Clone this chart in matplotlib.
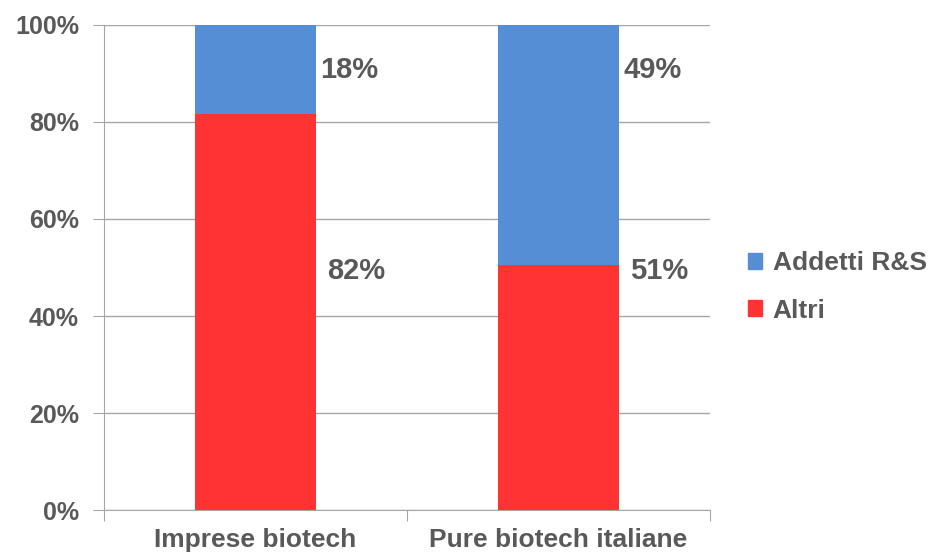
import matplotlib.pyplot as plt
from matplotlib.patches import Patch

categories = ["Imprese biotech", "Pure biotech italiane"]
altri = [81.6, 50.6]
addetti_rs = [18.4, 49.4]
altri_labels = ["82%", "51%"]
rs_labels = ["18%", "49%"]
yticks = [0, 20, 40, 60, 80, 100]

BLUE = "#558ED5"
RED = "#FF3333"
GRAY = "#595959"
GRID = "#A6A6A6"

plt.rcParams['font.family'] = ['Liberation Sans', 'DejaVu Sans']
plt.rcParams['font.weight'] = 'bold'

fig = plt.figure(figsize=(9.3, 5.54), dpi=100)
ax = fig.add_axes([0.1118, 0.0794, 0.6516, 0.8755])

x = list(range(len(categories)))
ax.bar(x, altri, width=0.4, color=RED, zorder=3)
ax.bar(x, addetti_rs, width=0.4, bottom=altri, color=BLUE, zorder=3)

# labels sit at fixed heights beside the bars, as in the original slide
for i in x:
    ax.text(i + 0.215, 90.7, rs_labels[i], color=GRAY,
            fontsize=21, fontweight='bold', va='center', ha='left')
    ax.text(i + 0.235, 49.2, altri_labels[i], color=GRAY,
            fontsize=21, fontweight='bold', va='center', ha='left')

ax.set_xlim(-0.5, 1.5)
ax.set_ylim(0, 100)
ax.set_yticks(yticks)
ax.set_yticklabels([f"{v}%" for v in yticks], color=GRAY, fontsize=18, fontweight='bold')
ax.yaxis.grid(True, color=GRID, linewidth=1, zorder=0)

ax.set_xticks([-0.5, 0.5, 1.5], minor=False)
ax.set_xticklabels([])
ax.set_xticks(x, minor=True)
ax.set_xticklabels(categories, minor=True, color=GRAY, fontsize=19, fontweight='bold')
ax.tick_params(axis='x', which='minor', length=0, pad=13)
ax.tick_params(axis='x', which='major', length=8, color=GRID, direction='out')
ax.tick_params(axis='y', length=8, color=GRID, pad=10)

for side in ['top', 'right']:
    ax.spines[side].set_visible(False)
for side in ['left', 'bottom']:
    ax.spines[side].set_color(GRID)

handles = [Patch(color=BLUE, label="Addetti R&S"), Patch(color=RED, label="Altri")]
fig.legend(handles=handles, loc='center left', bbox_to_anchor=(0.804, 0.482),
           frameon=False, handlelength=0.55, handleheight=0.55, handletextpad=0.4,
           labelspacing=0.88, prop={'size': 19, 'weight': 'bold'}, labelcolor=GRAY,
           borderpad=0, borderaxespad=0)

fig.savefig("out.png", dpi=100)
